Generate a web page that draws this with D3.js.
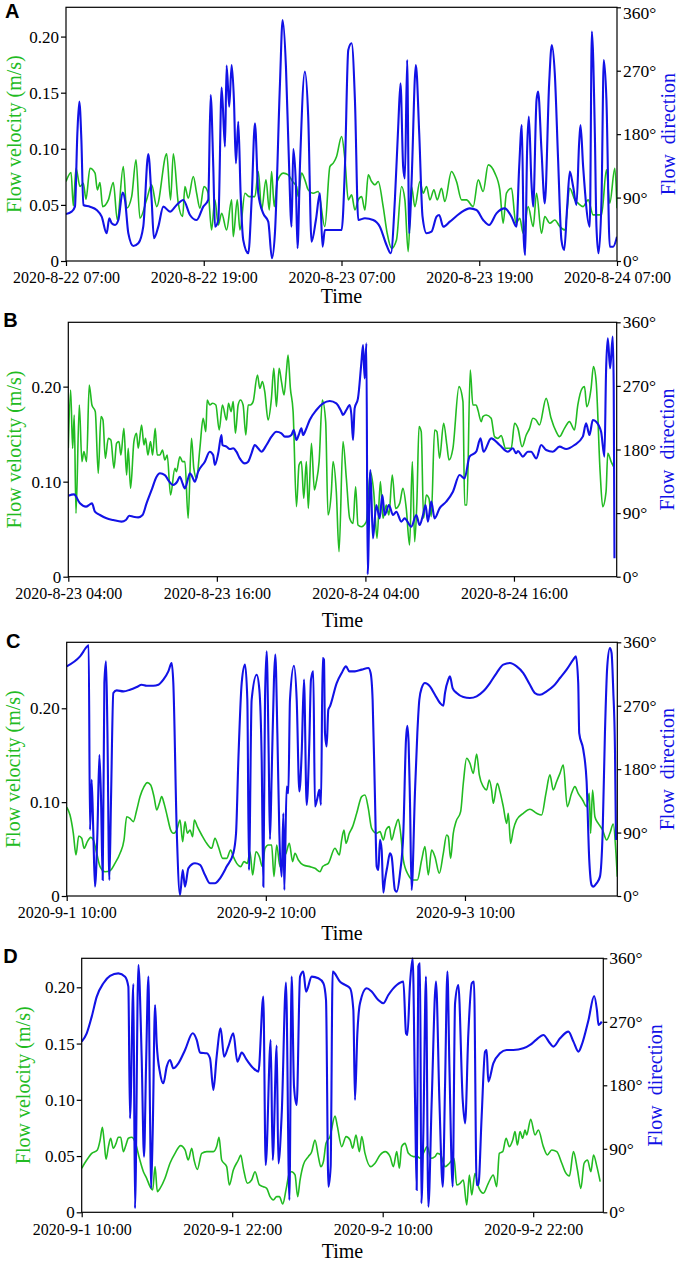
<!DOCTYPE html>
<html><head><meta charset="utf-8">
<script src="https://cdn.jsdelivr.net/npm/d3@7"></script>
<style>
html,body{margin:0;padding:0;background:#fff;}
svg{display:block;}
</style></head><body>
<svg id="chart" width="678" height="1262"></svg>
<script>
// ---------------- DATA ----------------
// time offsets are hours after each panel's start time
const startA = "2020-08-22T07:00:00";
const startB = "2020-08-23T04:00:00";
const startC = "2020-09-01T10:00:00";
const startD = "2020-09-01T10:00:00";

const spanA = 48, spanB = 44.3, spanC = 66.36, spanD = 41.59;

const xTicksA = [0, 12, 24, 36, 48];
const xTicksB = [0, 12, 24, 36];
const xTicksC = [0, 24, 48];
const xTicksD = [0, 12, 24, 36];

const velTicksA = [0, 0.05, 0.10, 0.15, 0.20];
const velTicksB = [0, 0.10, 0.20];
const velTicksC = [0, 0.10, 0.20];
const velTicksD = [0, 0.05, 0.10, 0.15, 0.20];
const dirTicks = [0, 90, 180, 270, 360];

const velMaxA = 0.2261, velMaxB = 0.2677, velMaxC = 0.2703, velMaxD = 0.2258;

const aVelocity = [[0,.0708],[.44,.0789],[.64,.0491],[.87,.0827],[1.22,.0664],[1.51,.0693],[1.74,.0551],[2.09,.0827],[2.53,.0783],[2.73,.0634],[2.96,.0699],[3.19,.0485],[3.69,.0545],[4.12,.0699],[4.47,.0366],[4.99,.0842],[5.28,.047],[5.72,.0574],[6.10,.0902],[6.44,.0381],[7.02,.0545],[7.46,.0679],[7.90,.0485],[8.77,.0955],[9.11,.0545],[9.35,.0955],[9.78,.0515],[10.16,.0396],[10.36,.0664],[10.65,.056],[11.09,.0753],[11.38,.0604],[11.67,.047],[12.02,.0664],[12.39,.0604],[12.68,.0277],[12.97,.0545],[13.27,.0321],[13.56,.0426],[13.99,.0277],[14.43,.0545],[14.57,.0217],[14.92,.0545],[15.15,.0277],[15.59,.0604],[15.96,.0574],[16.46,.0574],[16.75,.0798],[17.04,.0455],[17.42,.0723],[17.71,.0455],[17.91,.0798],[18.14,.0485],[18.40,.0708],[18.93,.0783],[19.36,.0768],[19.74,.0708],[20.09,.0664],[20.23,.0574],[20.52,.0783],[20.81,.0723],[21.10,.0634],[21.54,.0604],[21.97,.0619],[22.55,.0307],[22.99,.0842],[23.28,.0872],[23.57,.0932],[24.01,.111],[24.30,.0902],[24.59,.0545],[24.88,.0589],[25.17,.0455],[25.46,.0545],[25.75,.0574],[26.04,.0455],[26.33,.0768],[26.62,.0708],[26.91,.0679],[27.20,.0708],[27.63,.0485],[27.98,.0247],[28.36,.0113],[28.79,.0188],[29.23,.0664],[29.52,.0545],[29.81,.0083],[30.10,.0664],[30.39,.0485],[30.83,.0708],[31.12,.0604],[31.41,.0664],[31.70,.0545],[32.05,.0634],[32.34,.0545],[32.71,.0649],[33.00,.053],[33.58,.0798],[34.02,.0708],[34.46,.0545],[34.89,.0545],[35.47,.0485],[35.91,.0723],[36.34,.0619],[36.78,.0857],[37.36,.0783],[37.79,.0634],[38.08,.0336],[38.37,.0604],[38.81,.0649],[39.19,.0336],[39.53,.0381],[39.83,.0247],[40.26,.0485],[40.70,.0307],[40.99,.0604],[41.42,.0247],[41.71,.0396],[42.15,.0336],[42.58,.0366],[43.02,.0307],[43.45,.0277],[43.89,.0649],[44.32,.0545],[44.61,.0515],[45.05,.0485],[45.49,.0545],[45.92,.0411],[46.21,.0411],[46.65,.0411],[47.08,.0812],[47.37,.0515],[47.81,.0827],[48,.047]];

const aDirection = [[0,66.7],[.49,70],[.78,77.1],[.99,181.2],[1.16,226.1],[1.34,171.7],[1.51,79.5],[2.09,77.1],[2.67,72.4],[3.11,62.9],[3.54,39.3],[3.77,60.6],[3.98,53.5],[4.27,51.1],[4.56,58.2],[4.93,97],[5.14,86.6],[5.43,39.3],[5.86,21.3],[6.30,25.1],[6.73,48.7],[7.17,151.9],[7.46,86.6],[7.66,32.2],[8.04,48.7],[8.48,77.1],[9.06,70],[9.64,79.5],[10.22,86.6],[10.80,65.3],[11.38,58.2],[11.96,77.1],[12.39,86.6],[12.60,235.6],[12.83,133.9],[12.98,48.7],[13.27,58.2],[13.56,246],[13.85,162.3],[13.99,277.2],[14.22,219],[14.43,278.2],[14.63,228.5],[14.80,138.6],[15.01,197.7],[15.21,96],[15.44,29.8],[15.88,10.9],[16.17,86.6],[16.46,195.4],[16.75,96],[17.18,67.6],[17.62,55.8],[17.94,3.8],[18.20,39.3],[18.64,252.1],[18.87,342],[19.16,275.8],[19.39,157.5],[19.65,48.7],[19.80,159],[20.03,105.5],[20.17,18],[20.38,133.9],[20.81,268.7],[21.10,204.8],[21.39,27.4],[21.77,58.2],[22.12,96],[22.35,20.3],[22.55,44],[22.99,44],[23.57,44],[24.01,44],[24.30,133.9],[24.59,299.4],[24.88,308.9],[25.17,228.5],[25.46,58.2],[26.04,60.6],[26.76,58.2],[27.34,48.7],[27.92,22.7],[28.30,10.9],[28.65,86.6],[28.94,190.6],[29.14,252.1],[29.37,133.9],[29.52,117.3],[29.72,285.3],[29.90,39.3],[30.10,110.2],[30.48,278.2],[30.77,181.2],[31.06,62.9],[31.41,39.3],[31.84,41.6],[32.28,62.9],[32.51,65.3],[32.86,48.7],[33.44,55.8],[34.31,67.6],[35.18,74.7],[35.76,72.4],[36.34,58.2],[36.86,51.1],[37.50,67.6],[38.23,74.7],[38.81,62.9],[39.24,48.7],[39.48,133.9],[39.71,193],[39.88,29.8],[40.00,8.5],[40.17,157.5],[40.32,204.8],[40.55,110.2],[40.70,77.1],[40.99,228.5],[41.13,240.3],[41.42,157.5],[41.71,81.8],[42.09,252.1],[42.32,306.5],[42.58,266.3],[42.87,143.3],[43.16,29.8],[43.40,15.6],[43.66,77.1],[43.89,126.8],[44.18,105.5],[44.47,79.5],[44.70,167],[44.82,193],[45.05,133.9],[45.63,48.7],[45.81,325.5],[46.07,181.2],[46.21,48.7],[46.39,10.9],[46.65,86.6],[46.85,285.3],[47.08,228.5],[47.37,20.3],[47.66,20.3],[48,34.5]];

const bVelocity = [[0,.1351],[.19,.1965],[.35,.1351],[.48,.1702],[.62,.0667],[.89,.1807],[1.10,.1211],[1.26,.1316],[1.48,.1211],[1.69,.2018],[1.91,.1807],[2.18,.1737],[2.42,.1088],[2.64,.1684],[2.80,.1649],[2.99,.1246],[3.23,.1456],[3.44,.1439],[3.69,.114],[3.90,.1404],[4.09,.1421],[4.25,.1281],[4.49,.1561],[4.71,.107],[4.84,.1351],[5.03,.093],[5.30,.1421],[5.51,.1509],[5.65,.1351],[5.92,.1596],[6.11,.1386],[6.24,.1456],[6.43,.1281],[6.64,.1421],[6.81,.1281],[7.02,.1561],[7.18,.1281],[7.40,.1281],[7.61,.1333],[7.80,.1228],[7.99,.1281],[8.26,.086],[8.61,.114],[8.74,.1105],[9.01,.1263],[9.23,.1211],[9.42,.1211],[9.68,.0614],[9.95,.1456],[10.14,.114],[10.36,.1035],[10.63,.1351],[10.89,.1667],[11.11,.1526],[11.22,.186],[11.43,.1807],[11.65,.1825],[11.92,.1807],[12.19,.1544],[12.45,.1807],[12.78,.1649],[12.94,.1825],[13.15,.1737],[13.32,.1842],[13.50,.1509],[13.72,.1807],[13.91,.186],[14.12,.1807],[14.34,.1491],[14.53,.1807],[14.71,.1807],[14.93,.1842],[15.28,.2123],[15.47,.1982],[15.68,.2053],[15.87,.1947],[16.14,.1649],[16.41,.1877],[16.60,.2193],[16.81,.179],[17.03,.2193],[17.22,.2053],[17.43,.1912],[17.62,.2158],[17.75,.2333],[17.94,.1982],[18.16,.1737],[18.43,.0737],[18.64,.1175],[18.83,.1211],[19.02,.0825],[19.23,.1211],[19.39,.0719],[19.64,.1404],[19.88,.0912],[20.04,.1],[20.26,.1211],[20.52,.186],[20.79,.1632],[20.98,.0649],[21.25,.0895],[21.39,.1211],[21.65,.0895],[21.87,.0263],[22.19,.1421],[22.46,.1035],[22.73,.0614],[23.00,.0561],[23.21,.0947],[23.40,.0544],[23.67,.0526],[24.08,.0579],[24.40,.1105],[24.67,.0895],[24.94,.0404],[25.21,.1],[25.42,.0614],[25.69,.0754],[25.90,.0649],[26.17,.107],[26.44,.0719],[26.77,.0772],[27.03,.093],[27.30,.0719],[27.57,.0333],[27.79,.1211],[27.98,.0368],[28.16,.0789],[28.33,.1579],[28.51,.1526],[28.70,.0614],[28.92,.086],[29.13,.0825],[29.32,.0632],[29.59,.1544],[29.78,.1526],[29.99,.1246],[30.32,.1614],[30.58,.1386],[30.75,.1228],[31.07,.1351],[31.56,.2],[31.88,.1842],[32.02,.0754],[32.20,.0754],[32.47,.2175],[32.68,.1807],[32.95,.1807],[33.09,.1754],[33.36,.1632],[33.49,.1684],[33.76,.1702],[34.16,.1667],[34.43,.1474],[34.70,.1456],[34.97,.1484],[35.32,.1351],[35.78,.1351],[36.05,.1614],[36.32,.1561],[36.66,.1368],[36.99,.1491],[37.26,.1561],[37.53,.1667],[37.79,.1649],[38.06,.1596],[38.60,.1877],[39.00,.1667],[39.41,.1526],[39.68,.1474],[40.08,.1561],[40.48,.1632],[40.89,.1544],[41.16,.1807],[41.51,.1982],[41.70,.2],[41.88,.179],[42.23,.1982],[42.42,.2211],[42.64,.2053],[42.96,.1105],[43.17,.0737],[43.44,.0895],[43.58,.1298],[43.85,.1211],[44.12,.114]];

const bDirection = [[0,114.7],[.46,116.5],[.94,103.8],[1.43,99.1],[1.75,102.4],[1.91,103.8],[2.15,92],[2.56,87.3],[3.09,82.6],[3.63,80.2],[4.30,77.9],[4.65,80.2],[4.92,86.3],[5.25,84.9],[5.65,84],[6.00,87.3],[6.32,103.8],[6.73,122.7],[7.13,141.5],[7.40,146.3],[7.80,143.9],[8.07,136.8],[8.47,129.8],[8.80,134.5],[9.01,141.5],[9.23,132.1],[9.42,125],[9.68,139.2],[9.82,146.3],[9.95,143.9],[10.22,134.5],[10.49,148.6],[11.03,162.8],[11.43,176.9],[11.70,172.2],[11.84,158.1],[12.11,174.6],[12.37,200.5],[12.45,186.4],[12.78,184],[13.05,180.7],[13.32,181.7],[13.58,176.9],[13.85,167.5],[14.26,160.4],[14.53,162.8],[14.80,174.6],[15.06,186.4],[15.33,181.7],[15.60,176.9],[16.01,186.4],[16.41,198.2],[16.81,205.2],[17.22,202.9],[17.49,198.2],[17.75,198.2],[18.02,200.5],[18.21,207.6],[18.43,193.4],[18.61,200.5],[18.83,210],[18.96,200.5],[19.18,207.6],[19.50,221.8],[20.04,235.9],[20.58,245.3],[21.12,248.6],[21.65,245.3],[22.06,233.5],[22.19,228.8],[22.46,235.9],[22.73,243],[22.87,228.8],[23.00,193.4],[23.13,238.3],[23.40,252.4],[23.67,302],[23.81,327.9],[23.94,280.7],[24.08,330.3],[24.18,3.3],[24.40,151],[24.61,54.3],[24.88,101.4],[25.15,82.6],[25.37,115.6],[25.56,87.3],[25.90,101.4],[26.23,87.3],[26.50,92],[26.90,77.9],[27.17,82.6],[27.71,70.8],[28.11,87.3],[28.38,73.1],[28.65,87.3],[28.86,101.4],[29.05,77.9],[29.32,106.2],[29.59,82.6],[29.99,96.7],[30.53,106.2],[31.07,120.3],[31.61,143.9],[32.01,139.2],[32.41,169.9],[32.95,176.9],[33.30,195.8],[33.54,176.9],[34.16,195.8],[34.84,186.4],[35.51,176.9],[35.91,181.7],[36.18,174.6],[36.32,177.9],[36.72,169.9],[37.12,176.9],[37.39,176.9],[37.80,167.5],[38.20,186.4],[38.60,179.3],[39.14,176.9],[39.68,184],[40.22,180.7],[40.89,186.4],[41.56,198.2],[41.83,217],[42.10,200.5],[42.37,221.8],[42.64,219.4],[43.04,205.2],[43.31,169.9],[43.44,290.2],[43.58,337.3],[43.77,294.9],[43.98,339.7],[44.06,266.6],[44.12,26]];

const cVelocity = [[0,.0945],[.40,.0863],[.80,.0668],[1.12,.0437],[1.45,.0639],[1.81,.0615],[2.09,.0508],[2.49,.0579],[2.89,.0625],[3.21,.0597],[3.62,.0455],[4.02,.0313],[4.62,.0259],[5.22,.027],[5.82,.0348],[6.43,.0455],[6.91,.0597],[7.23,.0845],[7.63,.0828],[8.03,.0792],[8.44,.0917],[8.84,.1059],[9.32,.1165],[9.72,.1208],[10.12,.1183],[10.52,.1059],[10.85,.0917],[11.17,.0988],[11.45,.1059],[11.73,.0988],[12.13,.0845],[12.53,.0703],[12.85,.0668],[13.26,.0703],[13.66,.081],[13.98,.0579],[14.26,.0792],[14.54,.0668],[14.86,.0703],[15.18,.0632],[15.38,.081],[15.75,.0739],[16.27,.065],[16.87,.0561],[17.47,.0508],[17.87,.0615],[18.28,.0526],[18.80,.0401],[19.28,.0401],[19.76,.049],[20.08,.0419],[20.49,.0348],[20.97,.0313],[21.37,.0366],[21.77,.0348],[22.09,.0472],[22.41,.0224],[22.81,.0472],[23.22,.0419],[23.58,.0313],[23.90,.0508],[24.30,.0544],[24.70,.0544],[24.98,.0206],[25.31,.0544],[25.71,.0313],[26.11,.0419],[26.43,.0455],[26.83,.0561],[27.23,.0366],[27.51,.0455],[27.92,.0384],[28.52,.033],[29.32,.0313],[29.92,.0295],[30.53,.0259],[30.85,.0313],[31.13,.033],[31.53,.0348],[32.33,.0508],[32.86,.0437],[33.14,.0597],[33.42,.0703],[33.66,.0561],[34.06,.0668],[34.46,.0739],[34.95,.0881],[35.55,.1059],[35.95,.1076],[36.35,.0934],[36.75,.0721],[37.36,.0668],[37.76,.0686],[38.16,.0597],[38.48,.0703],[38.88,.0739],[39.16,.0597],[39.56,.0721],[39.97,.0817],[40.25,.0668],[40.57,.0384],[41.17,.0224],[41.77,.0171],[42.26,.0171],[42.78,.0384],[43.18,.0526],[43.58,.0224],[43.98,.049],[44.38,.0419],[44.91,.0242],[45.39,.0455],[45.79,.065],[45.99,.0632],[46.27,.0401],[46.59,.0668],[46.92,.0792],[47.48,.0899],[47.80,.1201],[48.20,.1467],[48.60,.1414],[49.00,.1307],[49.41,.1513],[49.73,.129],[50.21,.1165],[50.61,.113],[50.93,.1236],[51.21,.113],[51.41,.0988],[51.90,.1201],[52.22,.1112],[52.62,.0952],[53.02,.0774],[53.22,.0881],[53.50,.0561],[53.82,.0703],[54.23,.081],[55.03,.0881],[55.83,.0924],[56.64,.0881],[57.24,.0863],[57.76,.1094],[58.24,.129],[58.64,.113],[59.04,.1218],[59.45,.1307],[59.85,.1396],[60.33,.0952],[60.85,.1094],[61.25,.1165],[61.65,.1094],[62.18,.1023],[62.66,.0952],[62.98,.1094],[63.14,.0668],[63.38,.113],[63.66,.0845],[64.06,.0774],[64.59,.0703],[65.07,.0597],[65.47,.0668],[65.87,.0767],[66.20,.0455],[66.36,.0206]];

const cDirection = [[0,325.9],[1.61,340.1],[2.49,354.3],[2.65,355.7],[2.81,93.8],[3.01,164.8],[3.21,89.1],[3.41,13.3],[3.70,89.1],[3.94,200.4],[4.14,136.4],[4.34,22.7],[4.54,302.2],[4.74,333],[4.90,240.6],[5.14,22.7],[5.34,136.4],[5.62,288],[6.03,291.8],[6.83,290.4],[7.63,292.7],[8.44,296.5],[9.04,299.8],[9.64,298.4],[10.44,298.4],[11.05,299.8],[11.65,306.9],[12.25,318.8],[12.65,330.6],[12.85,302.2],[13.26,93.8],[13.66,1.4],[13.98,36.9],[14.26,13.3],[14.66,39.3],[15.46,46.4],[16.07,44.1],[16.67,29.8],[17.27,18],[17.87,18],[18.48,25.1],[19.28,41.7],[20.08,60.6],[20.41,89.1],[20.69,193.3],[21.09,302.2],[21.49,328.3],[21.77,278.5],[21.97,36.9],[22.29,278.5],[22.90,314],[23.22,292.7],[23.50,193.3],[23.70,13.3],[23.90,278.5],[24.10,347.2],[24.34,202.7],[24.50,80.5],[24.70,169.6],[24.98,307],[25.14,342.5],[25.39,231.2],[25.63,89.1],[25.91,27.5],[26.11,117.5],[26.23,8.5],[26.51,155.4],[26.71,145.9],[26.91,278.5],[27.39,326.8],[27.72,278.5],[28.04,148.3],[28.32,202.7],[28.60,307],[28.92,129.3],[29.24,216.9],[29.44,307],[29.72,318.8],[29.92,126.9],[30.21,138.8],[30.45,150.6],[30.65,129.3],[30.85,337.7],[31.01,335.4],[31.13,231.2],[31.33,212.2],[31.53,264.3],[31.73,269.1],[32.54,302.2],[33.14,316.4],[33.66,325.9],[34.06,318.8],[34.74,318.8],[35.55,321.2],[36.35,323.5],[36.63,316.4],[36.87,278.5],[37.16,136.4],[37.36,41.7],[37.56,36.9],[37.76,79.6],[37.96,65.4],[38.16,4.7],[38.36,22.7],[38.64,41.7],[38.96,60.6],[39.16,55.9],[39.56,8.5],[39.77,6.2],[40.17,32.2],[40.57,89.1],[40.89,221.7],[41.05,241.6],[41.21,217],[41.37,136.4],[41.57,8.5],[41.97,145.9],[42.26,231.2],[42.50,278.5],[42.78,295.1],[43.18,302.2],[43.78,297.5],[44.38,285.6],[44.99,273.8],[45.39,270],[45.59,288],[45.99,307],[46.19,311.7],[46.51,295.1],[47.00,288],[47.80,282.3],[48.60,280.9],[49.41,283.3],[50.21,290.4],[51.01,302.2],[51.81,316.4],[52.62,328.3],[53.42,330.6],[54.23,325.9],[55.03,316.4],[55.83,299.8],[56.43,288],[57.04,285.6],[57.84,290.4],[58.64,297.5],[59.45,309.3],[60.25,321.2],[61.05,335.4],[61.37,340.1],[61.65,302.2],[61.77,231.2],[62.26,207.5],[62.66,162.5],[62.98,51.2],[63.26,15.6],[63.46,13.3],[63.86,18],[64.27,27.5],[64.59,89.1],[64.87,231.2],[65.15,325.9],[65.47,351.9],[65.67,344.8],[65.87,292.7],[66.08,207.5],[66.20,79.6]];

const dVelocity = [[0,.0391],[.40,.0465],[.80,.0524],[1.25,.0554],[1.46,.0637],[1.65,.0756],[1.78,.0643],[1.94,.0471],[2.13,.0584],[2.31,.0658],[2.52,.0569],[2.74,.0613],[2.92,.0667],[3.11,.0667],[3.32,.0539],[3.53,.0599],[3.72,.0658],[3.99,.0667],[4.25,.0628],[4.60,.048],[4.92,.0361],[5.18,.0302],[5.45,.0228],[5.66,.0199],[5.85,.0406],[6.03,.0184],[6.25,.0213],[6.64,.0302],[7.04,.0436],[7.44,.0524],[7.89,.0593],[8.24,.0554],[8.50,.0465],[8.77,.0569],[8.96,.0465],[9.22,.0382],[9.57,.0524],[9.97,.0539],[10.50,.0539],[10.76,.0584],[10.95,.0667],[11.16,.0465],[11.56,.0406],[11.77,.0243],[12.09,.0376],[12.49,.0465],[12.68,.051],[12.89,.0391],[13.21,.0258],[13.55,.0287],[13.82,.0361],[14.17,.0243],[14.48,.0228],[14.75,.0213],[15.02,.0139],[15.28,.011],[15.55,.0139],[15.76,.0139],[16.03,.0074],[16.29,.0199],[16.56,.0347],[16.74,.0361],[17.01,.0332],[17.22,.0139],[17.41,.0287],[17.67,.0421],[18.07,.0495],[18.34,.0539],[18.60,.0643],[18.87,.0495],[19.06,.0406],[19.27,.045],[19.48,.0613],[19.80,.0673],[20.20,.0856],[20.39,.0761],[20.73,.0584],[21.08,.0673],[21.40,.0643],[21.61,.0569],[21.87,.0687],[22.14,.0539],[22.33,.0673],[22.59,.0524],[23.04,.0406],[23.39,.0436],[23.79,.051],[24.19,.0539],[24.59,.0495],[24.85,.0406],[25.12,.0539],[25.33,.0391],[25.51,.0584],[25.78,.0613],[26.05,.0524],[26.45,.0495],[26.76,.0495],[26.98,.048],[27.24,.0524],[27.56,.0584],[27.83,.048],[28.17,.0495],[28.36,.0524],[28.62,.051],[28.97,.0406],[29.32,.0436],[29.69,.048],[29.90,.0243],[30.17,.0258],[30.43,.0287],[30.70,.0065],[30.91,.0332],[31.10,.0154],[31.36,.0347],[31.63,.0228],[32.03,.0169],[32.42,.0258],[32.82,.0332],[33.09,.0228],[33.30,.0524],[33.57,.0539],[33.84,.0658],[34.10,.0584],[34.37,.0643],[34.55,.0717],[34.74,.0599],[34.95,.0717],[35.16,.0658],[35.35,.0732],[35.48,.0687],[35.80,.0827],[36.15,.0687],[36.41,.0732],[36.81,.0584],[37.13,.051],[37.48,.0554],[37.88,.0539],[38.28,.0436],[38.54,.0361],[38.89,.0323],[39.21,.0539],[39.53,.0376],[39.80,.0213],[40.06,.0436],[40.33,.0465],[40.60,.0361],[40.81,.051],[41.08,.0406],[41.34,.0273]];

const dDirection = [[0,241.9],[.40,253.7],[.80,277.3],[1.20,305.7],[1.73,324.6],[2.26,335],[2.92,338.7],[3.46,334],[3.72,319.8],[3.85,133.2],[4.12,323.6],[4.25,5.7],[4.52,350.5],[4.78,220.6],[4.97,78.9],[5.13,206.5],[5.32,334],[5.45,135.6],[5.53,34],[5.66,112],[5.85,293.9],[5.98,239.5],[6.25,197],[6.51,182.8],[6.78,206.5],[7.04,215.9],[7.31,204.1],[7.71,211.2],[8.24,230.1],[8.85,253.7],[9.17,244.3],[9.44,226.3],[9.97,225.4],[10.23,218.3],[10.50,173.4],[10.76,220.6],[11.08,260.8],[11.35,220.6],[11.69,234.8],[12.09,253.7],[12.41,213.5],[12.76,226.3],[13.16,215.9],[13.69,204.1],[14.09,199.4],[14.48,305.7],[14.67,67.1],[15.07,244.3],[15.23,74.2],[15.55,236.2],[15.68,69.4],[15.95,140.3],[16.29,325.5],[16.56,17.5],[16.74,334],[16.93,178.1],[17.14,152.1],[17.41,334],[17.67,341.1],[17.89,312.8],[18.34,334],[18.87,331.7],[19.27,324.6],[19.48,300.9],[19.67,36.4],[19.85,64.7],[20.01,341.1],[20.60,326.9],[21.00,322.2],[21.40,317.5],[21.66,286.8],[21.79,159.2],[21.98,253.7],[22.19,296.2],[22.72,317.5],[23.12,312.8],[23.65,300.9],[24.05,296.2],[24.45,308],[25.12,322.2],[25.65,326.9],[25.86,253.7],[25.97,251.3],[26.18,324.6],[26.39,360],[26.58,159.2],[26.71,31.7],[26.84,348.2],[26.98,352.9],[27.08,12.8],[27.24,112],[27.45,334],[27.64,8],[27.91,159.2],[28.25,326.9],[28.52,159.2],[28.79,36.4],[28.97,178.1],[29.16,341.1],[29.32,206.5],[29.58,36.4],[29.77,296.2],[30.03,322.2],[30.38,159.2],[30.57,126.1],[30.83,253.7],[31.10,324.6],[31.28,326.9],[31.49,38.7],[31.63,38.7],[31.89,135.6],[32.16,227.7],[32.29,230.1],[32.42,185.2],[32.82,211.2],[33.35,225.4],[33.88,230.1],[34.42,230.1],[35.21,232.4],[35.75,237.2],[36.28,245.2],[36.81,251.3],[37.34,239.5],[37.61,234.8],[38.14,246.6],[38.81,256.1],[39.21,241.9],[39.61,227.7],[39.87,237.2],[40.41,272.6],[40.86,306.6],[41.08,286.8],[41.21,265.5],[41.47,270.2]];

// ---------------- LAYOUT ----------------
const GREEN = "#22bb22", BLUE = "#1212e6";
const SERIF = '"Liberation Serif","Times New Roman",serif';
const SANS = '"Liberation Sans",Arial,sans-serif';
const panels = [
  {letter:"A", start:startA, span:spanA, xTicks:xTicksA, velTicks:velTicksA, velMax:velMaxA, vel:aVelocity, dir:aDirection,
   left:66, right:617, top:7.3, bottom:261, letterX:5, letterY:18.3, leftTitleX:14, rightTitleX:668, timeDY:42.3},
  {letter:"B", start:startB, span:spanB, xTicks:xTicksB, velTicks:velTicksB, velMax:velMaxB, vel:bVelocity, dir:bDirection,
   left:68.3, right:616.7, top:322.3, bottom:576.7, letterX:3.3, letterY:326.7, leftTitleX:14, rightTitleX:667, timeDY:50},
  {letter:"C", start:startC, span:spanC, xTicks:xTicksC, velTicks:velTicksC, velMax:velMaxC, vel:cVelocity, dir:cDirection,
   left:66.7, right:617.3, top:642.3, bottom:896, letterX:6, letterY:648.3, leftTitleX:12.7, rightTitleX:667, timeDY:44},
  {letter:"D", start:startD, span:spanD, xTicks:xTicksD, velTicks:velTicksD, velMax:velMaxD, vel:dVelocity, dir:dDirection,
   left:81.7, right:603.3, top:958.3, bottom:1212.3, letterX:3.3, letterY:963.3, leftTitleX:22.7, rightTitleX:655, timeDY:46}
];

const svg = d3.select("#chart");
const fmtTime = d3.timeFormat("%Y-%-m-%-d %H:%M");
const fmtVel = v => v === 0 ? "0" : d3.format(".2f")(v);

panels.forEach(p => {
  const t0 = new Date(p.start).getTime();
  const toDate = h => new Date(t0 + h * 3600e3);
  const x = d3.scaleTime().domain([toDate(0), toDate(p.span)]).range([p.left, p.right]);
  const yV = d3.scaleLinear().domain([0, p.velMax]).range([p.bottom, p.top]);
  const yD = d3.scaleLinear().domain([0, 360]).range([p.bottom, p.top]);
  const g = svg.append("g");

  const clipId = "clip" + p.letter;
  g.append("clipPath").attr("id", clipId).append("rect")
    .attr("x", p.left).attr("y", p.top - 2).attr("width", p.right - p.left).attr("height", p.bottom - p.top + 3);

  const lineV = d3.line().x(d => x(toDate(d[0]))).y(d => yV(d[1])).curve(d3.curveMonotoneX);
  const lineD = d3.line().x(d => x(toDate(d[0]))).y(d => yD(d[1])).curve(d3.curveMonotoneX);

  g.append("path").datum(p.vel).attr("d", lineV).attr("fill", "none")
    .attr("stroke", GREEN).attr("stroke-width", 1.6).attr("clip-path", `url(#${clipId})`);
  g.append("path").datum(p.dir).attr("d", lineD).attr("fill", "none")
    .attr("stroke", BLUE).attr("stroke-width", 2.1).attr("clip-path", `url(#${clipId})`);

  // frame
  g.append("rect").attr("x", p.left).attr("y", p.top).attr("width", p.right - p.left).attr("height", p.bottom - p.top)
    .attr("fill", "none").attr("stroke", "#000").attr("stroke-width", 1.2);

  const styleAxis = (sel, size) => {
    sel.attr("font-family", SERIF);
    sel.select(".domain").remove();
    sel.selectAll(".tick line").attr("stroke", "#000").attr("stroke-width", 1.2);
    sel.selectAll(".tick text").attr("fill", "#000").attr("font-size", size).attr("font-family", SERIF);
  };

  g.append("g").attr("transform", `translate(0,${p.bottom})`)
    .call(d3.axisBottom(x).tickValues(p.xTicks.map(toDate)).tickFormat(fmtTime).tickSize(5).tickPadding(6).tickSizeOuter(0))
    .call(s => styleAxis(s, 16));
  g.append("g").attr("transform", `translate(${p.left},0)`)
    .call(d3.axisLeft(yV).tickValues(p.velTicks).tickFormat(fmtVel).tickSize(5).tickPadding(2).tickSizeOuter(0))
    .call(s => styleAxis(s, 17));
  const rAxis = g.append("g").attr("transform", `translate(${p.right},0)`)
    .call(d3.axisRight(yD).tickValues(dirTicks).tickFormat(d => d + "°").tickSize(4).tickPadding(2).tickSizeOuter(0))
    .call(s => styleAxis(s, 17.5));
  // keep the top label inside the picture when the panel touches the top edge
  if (p.top < 12) rAxis.selectAll(".tick text").filter(d => d === 360).attr("dy", "0.62em");

  const midY = (p.top + p.bottom) / 2;
  g.append("text").attr("transform", `translate(${p.leftTitleX},${midY}) rotate(-90)`)
    .attr("text-anchor", "middle").attr("dominant-baseline", "central").attr("font-family", SERIF)
    .attr("font-size", 20).attr("fill", GREEN).text("Flow velocity (m/s)");
  g.append("text").attr("transform", `translate(${p.rightTitleX},${midY}) rotate(-90)`)
    .attr("text-anchor", "middle").attr("dominant-baseline", "central").attr("font-family", SERIF)
    .attr("font-size", 20).attr("fill", BLUE).attr("word-spacing", 5).text("Flow direction");
  g.append("text").attr("x", (p.left + p.right) / 2).attr("y", p.bottom + p.timeDY)
    .attr("text-anchor", "middle").attr("font-family", SERIF).attr("font-size", 20).attr("fill", "#000").text("Time");
  g.append("text").attr("x", p.letterX).attr("y", p.letterY)
    .attr("font-family", SANS).attr("font-weight", "bold")
    .attr("font-size", 20).attr("fill", "#000").text(p.letter);
});
</script>
</body></html>
